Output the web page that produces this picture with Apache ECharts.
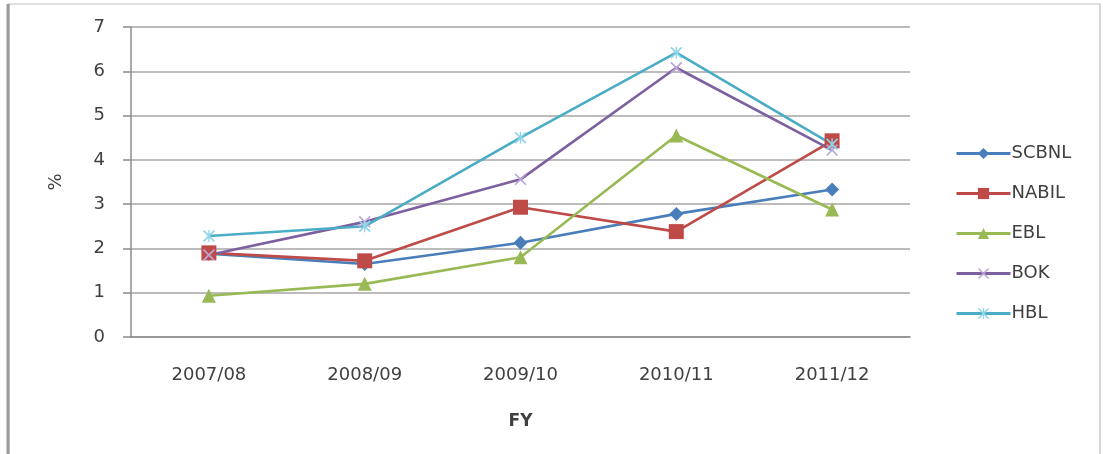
<!DOCTYPE html>
<html>
<head>
<meta charset="utf-8">
<title>Bank ratios by fiscal year</title>
<script src="https://cdn.jsdelivr.net/npm/echarts@6/dist/echarts.min.js"></script>
<style>
  html, body { margin: 0; padding: 0; background: #ffffff; }
  #chart { width: 1103px; height: 454px; }
</style>
</head>
<body>
<div id="chart"></div>
<script>
// Fiscal years on the x axis
const years = ['2007/08', '2008/09', '2009/10', '2010/11', '2011/12'];

// Ratio (%) per bank per fiscal year
const scbnl = [1.88, 1.65, 2.13, 2.78, 3.33];
const nabil = [1.90, 1.72, 2.93, 2.38, 4.43];
const ebl   = [0.93, 1.20, 1.80, 4.55, 2.88];
const bok   = [1.85, 2.60, 3.56, 6.08, 4.22];
const hbl   = [2.28, 2.50, 4.50, 6.42, 4.35];

// Axis range / ticks
const yMin = 0, yMax = 7, yStep = 1;

// Marker shapes for the cross-style series
const crossPath = 'path://M0,1 L1,0 L5,4 L9,0 L10,1 L6,5 L10,9 L9,10 L5,6 L1,10 L0,9 L4,5 Z';
const starPath = 'path://M0,1 L1,0 L5,4 L9,0 L10,1 L6,5 L10,9 L9,10 L5,6 L1,10 L0,9 L4,5 Z M4.45,0 L5.55,0 L5.55,10 L4.45,10 Z';

const textColor = '#404040';
const fontFamily = '"DejaVu Sans", "Open Sans", sans-serif';

function lineSeries(name, data, color, symbol, size, symbolColor) {
  return {
    name: name,
    type: 'line',
    data: data,
    symbol: symbol,
    symbolSize: size,
    showAllSymbol: true,
    lineStyle: { color: color, width: 2.6 },
    itemStyle: { color: symbolColor || color, borderWidth: 0 },
    emphasis: { disabled: true },
    animation: false
  };
}

const chart = echarts.init(document.getElementById('chart'), null, { renderer: 'canvas' });

chart.setOption({
  backgroundColor: '#ffffff',
  animation: false,
  color: ['#4a7ebb', '#be4b48', '#98b954', '#7d60a0', '#4bacc6'],
  graphic: [
    { type: 'rect', shape: { x: 9, y: 4, width: 1091, height: 470 },
      style: { fill: 'none', stroke: '#bdbdbd', lineWidth: 1.2 }, silent: true, z: -1 },
    { type: 'line', shape: { x1: 8, y1: 4, x2: 8, y2: 454 },
      style: { stroke: '#9a9a9a', lineWidth: 3 }, silent: true, z: -1 }
  ],
  grid: { left: 131, top: 27, right: 193, bottom: 117, containLabel: false },
  legend: {
    orient: 'vertical',
    left: 950,
    top: 138,
    itemWidth: 54,
    itemHeight: 14,
    itemGap: 19,
    lineStyle: { width: 3 },
    textStyle: { color: textColor, fontSize: 18, fontFamily: fontFamily, lineHeight: 21, padding: [0, 0, 0, -4] },
    data: ['SCBNL', 'NABIL', 'EBL', 'BOK', 'HBL']
  },
  xAxis: {
    type: 'category',
    data: years,
    boundaryGap: true,
    name: 'FY',
    nameLocation: 'middle',
    nameGap: 76,
    nameTextStyle: { color: textColor, fontSize: 17, fontWeight: 'bold', fontFamily: fontFamily },
    axisLine: { show: true, lineStyle: { color: '#8c8c8c', width: 1.5 } },
    axisTick: { show: false },
    axisLabel: { color: textColor, fontSize: 18, fontFamily: fontFamily, margin: 29 },
    splitLine: { show: false }
  },
  yAxis: {
    type: 'value',
    min: yMin,
    max: yMax,
    interval: yStep,
    name: '%',
    nameLocation: 'middle',
    nameRotate: 90,
    nameGap: 66,
    nameTextStyle: { color: textColor, fontSize: 18, fontFamily: fontFamily },
    axisLine: { show: true, lineStyle: { color: '#8c8c8c', width: 1.5 } },
    axisTick: { show: true, length: 8, lineStyle: { color: '#8c8c8c', width: 1.5 } },
    axisLabel: { color: textColor, fontSize: 18, fontFamily: fontFamily, margin: 26 },
    splitLine: { show: true, lineStyle: { color: '#a6a6a6', width: 1.5 } }
  },
  series: [
    lineSeries('SCBNL', scbnl, '#4a7ebb', 'diamond', 14),
    lineSeries('NABIL', nabil, '#be4b48', 'rect', 15),
    lineSeries('EBL', ebl, '#98b954', 'triangle', 14),
    lineSeries('BOK', bok, '#7d60a0', crossPath, 12, '#b9a6d6'),
    lineSeries('HBL', hbl, '#4bacc6', starPath, 12, '#8fd6e8')
  ]
});
</script>
</body>
</html>
